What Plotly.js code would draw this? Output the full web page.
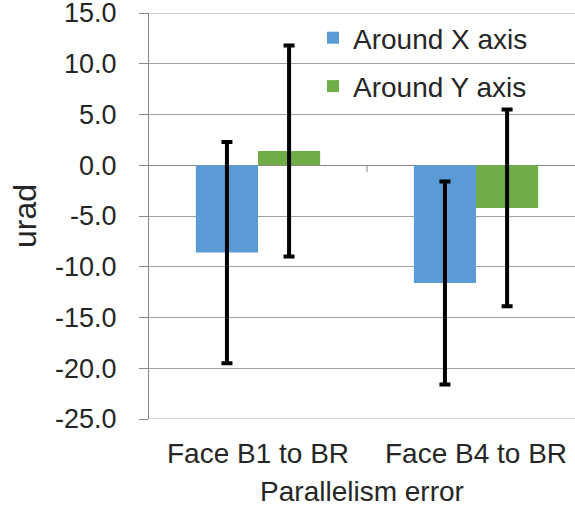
<!DOCTYPE html>
<html>
<head>
<meta charset="utf-8">
<script src="https://cdn.plot.ly/plotly-3.0.1.min.js"></script>
<style>html,body{margin:0;padding:0;background:#fff;}#chart{width:575px;height:513px;}</style>
</head>
<body>
<div id="chart"></div>
<script>
const categories = ["Face B1 to BR", "Face B4 to BR"];
const seriesNames = ["Around X axis", "Around Y axis"];
const aroundX = [-8.6, -11.6];
const aroundXErr = [10.9, 10.0];
const aroundY = [1.4, -4.2];
const aroundYErr = [10.4, 9.7];
const yTicks = [-25, -20, -15, -10, -5, 0, 5, 10, 15];
const yTickText = ["-25.0", "-20.0", "-15.0", "-10.0", "-5.0", "0.0", "5.0", "10.0", "15.0"];

const font = "Liberation Sans, Arial, sans-serif";
const txt = "#262626";
const gridCol = "#a0a0a0";

const errStyle = {type: "data", visible: true, color: "#000000", thickness: 4, width: 5.5};

const traces = [
  {type: "bar", name: seriesNames[0], x: [0, 1], y: aroundX, legendgroup: "a",
   marker: {color: "#5B9BD5"},
   error_y: Object.assign({array: aroundXErr}, errStyle)},
  {type: "bar", name: seriesNames[1], x: [0, 1], y: aroundY, legendgroup: "b",
   marker: {color: "#70AD47"},
   error_y: Object.assign({array: aroundYErr}, errStyle)}
];

// gridlines at the two ends of the value axis (Plotly omits grid at the plot edges)
const yMin = yTicks[0], yMax = yTicks[yTicks.length - 1];
const edgeShapes = [yMin, yMax].map(v => ({
  type: "line", xref: "paper", yref: "y", x0: 0, x1: 1, y0: v, y1: v, layer: "above",
  line: {color: gridCol, width: 1}
}));

const layout = {
  width: 575, height: 513,
  margin: {l: 149, r: 0, t: 13, b: 94},
  paper_bgcolor: "#ffffff", plot_bgcolor: "#ffffff",
  font: {family: font, size: 28, color: txt},
  barmode: "group", bargap: 0.43, bargroupgap: 0,
  showlegend: true,
  legend: {x: 0.385, y: 1.0, xanchor: "left", yanchor: "top", bgcolor: "rgba(0,0,0,0)",
           font: {family: font, size: 28, color: txt}, tracegroupgap: 9, traceorder: "grouped"},
  xaxis: {
    range: [-0.5, 1.454], tickmode: "array", tickvals: [0, 1], ticktext: categories,
    showline: false, ticks: "", showgrid: false, zeroline: false,
    tickfont: {family: font, size: 28, color: txt},
    ticklabelstandoff: 15,
    title: {text: "Parallelism error", font: {family: font, size: 28, color: txt}, standoff: 13},
    automargin: false
  },
  yaxis: {
    range: [yMin, yMax], tickmode: "array", tickvals: yTicks, ticktext: yTickText,
    showline: true, linecolor: "#888888", linewidth: 1,
    ticks: "outside", ticklen: 9, tickcolor: "#888888",
    showgrid: true, gridcolor: gridCol, gridwidth: 1,
    zeroline: true, zerolinecolor: "#888888", zerolinewidth: 1,
    tickfont: {family: font, size: 27, color: txt},
    ticklabelstandoff: 17,
    ticklabeloverflow: "allow",
    title: {text: "urad", font: {family: font, size: 32, color: txt}, standoff: 8},
    automargin: false
  },
  shapes: edgeShapes.concat([
    {type: "line", xref: "x", yref: "y", x0: 0.5, x1: 0.5, ysizemode: "pixel", yanchor: 0, y0: 0, y1: -7,
     line: {color: "#888888", width: 1}}
  ])
};

Plotly.newPlot("chart", traces, layout, {staticPlot: true, displayModeBar: false});
</script>
</body>
</html>
